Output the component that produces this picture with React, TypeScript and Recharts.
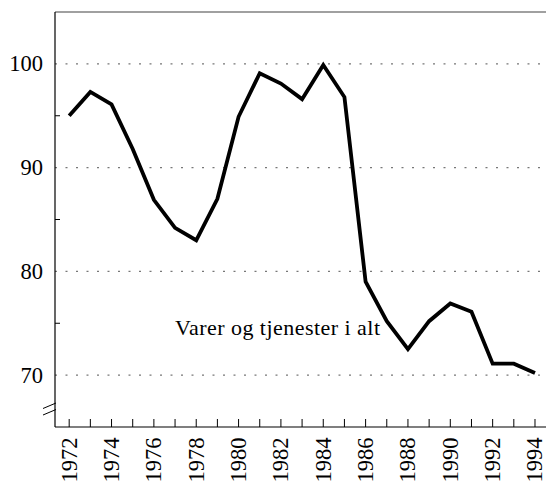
import { LineChart, Line, XAxis, YAxis, ReferenceLine } from 'recharts'

const years = [
  1972, 1973, 1974, 1975, 1976, 1977, 1978, 1979, 1980, 1981, 1982, 1983,
  1984, 1985, 1986, 1987, 1988, 1989, 1990, 1991, 1992, 1993, 1994,
]
const values = [
  95.0, 97.3, 96.1, 91.8, 86.9, 84.2, 83.0, 87.0, 94.9, 99.1, 98.1, 96.6,
  99.9, 96.8, 79.0, 75.2, 72.5, 75.2, 76.9, 76.1, 71.1, 71.1, 70.2,
]
const yTicks = [70, 75, 80, 85, 90, 95, 100]
const gridValues = [70, 80, 90, 100]
const seriesLabel = 'Varer og tjenester i alt'

const data = years.map((year, i) => ({ year, value: values[i] }))

const FONT = '"Liberation Serif", "Times New Roman", serif'

function YTick(props: any) {
  const { x, y, payload } = props
  const major = payload.value % 10 === 0
  return (
    <g>
      {!major && <line x1={x} y1={y} x2={x + 5} y2={y} stroke="#000" strokeWidth={1} />}
      {major && (
        <text x={x - 12} y={y} dy={7.5} textAnchor="end" fontFamily={FONT} fontSize={22.5} fill="#000">
          {payload.value}
        </text>
      )}
    </g>
  )
}

function XTick(props: any) {
  const { x, y, payload } = props
  const labelled = payload.value % 2 === 0
  return (
    <g>
      <line x1={x} y1={y} x2={x} y2={y - 8} stroke="#000" strokeWidth={1} />
      {labelled && (
        <text
          transform={`translate(${x + 7.5}, ${y + 10.5}) rotate(-90)`}
          textAnchor="end"
          fontFamily={FONT}
          fontSize={22.5}
          fill="#000"
        >
          {payload.value}
        </text>
      )}
    </g>
  )
}

export default function App() {
  return (
    <div style={{ position: 'absolute', left: 0, top: 0, width: 546, height: 483, background: '#fff' }}>
      <LineChart width={546} height={483} data={data} margin={{ top: 12, right: 0, bottom: 0, left: 0 }}>
        <XAxis
          dataKey="year"
          type="number"
          domain={[1971.33, 1994.52]}
          allowDataOverflow
          ticks={years}
          interval={0}
          height={56}
          tickSize={0}
          tickMargin={0}
          tick={<XTick />}
          axisLine={{ stroke: '#000', strokeWidth: 1.2 }}
        />
        <YAxis
          type="number"
          domain={[65, 105]}
          allowDataOverflow
          ticks={yTicks}
          interval={0}
          width={55}
          tickSize={0}
          tickMargin={0}
          tick={<YTick />}
          axisLine={{ stroke: '#000', strokeWidth: 1.2 }}
        />
        {gridValues.map((v) => (
          <ReferenceLine key={v} y={v} stroke="#777" strokeWidth={1.2} strokeDasharray="2 8.5" />
        ))}
        <ReferenceLine y={105} stroke="#808080" strokeWidth={1.5} />
        <Line
          type="linear"
          dataKey="value"
          stroke="#000"
          strokeWidth={3.8}
          dot={false}
          activeDot={false}
          isAnimationActive={false}
        />
      </LineChart>
      <svg width={546} height={483} style={{ position: 'absolute', left: 0, top: 0, pointerEvents: 'none' }}>
        <line x1={43} y1={408.5} x2={56} y2={403} stroke="#000" strokeWidth={1} />
        <line x1={43} y1={415} x2={56} y2={409.5} stroke="#000" strokeWidth={1} />
        <text x={175} y={335} fontFamily={FONT} fontSize={22} textLength={205} fill="#000">
          {seriesLabel}
        </text>
      </svg>
    </div>
  )
}
